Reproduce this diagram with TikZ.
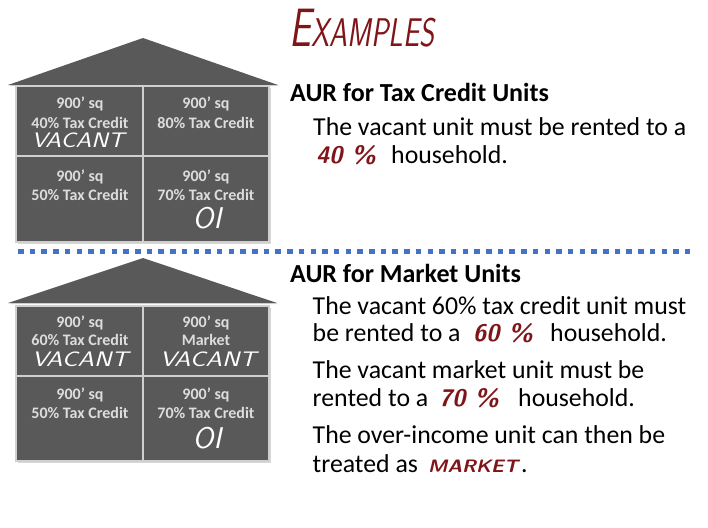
\documentclass[tikz,border=0pt]{standalone}
\usepackage{fontspec}
\setmainfont{Carlito}
\usetikzlibrary{shadows}
\definecolor{hgray}{HTML}{595959}
\definecolor{hborder}{HTML}{D0D0D0}
\definecolor{celltext}{HTML}{DDDDDD}
\definecolor{hred}{HTML}{7F1518}
\definecolor{dotblue}{HTML}{4472C4}
\tikzset{
  roof/.style={fill=hgray, draw=none, drop shadow={opacity=0.25, shadow xshift=1pt, shadow yshift=-1pt}},
  housebox/.style={fill=hgray, draw=hborder, line width=2pt, drop shadow={opacity=0.3, shadow xshift=1.5pt, shadow yshift=-1.5pt}},
  divider/.style={draw=hborder, line width=1.8pt},
  cell/.style={font=\fontsize{16}{16}\selectfont\bfseries, text=celltext, anchor=base, inner sep=0pt},
  scrawl/.style={font=\fontsize{21}{21}\selectfont\sffamily\itshape, text=white, anchor=base, inner sep=0pt, text height=14.5pt, text depth=0pt},
  bigscrawl/.style={font=\fontsize{30}{30}\selectfont\sffamily\itshape, text=white, anchor=base, inner sep=0pt},
  head/.style={font=\fontsize{26}{26}\selectfont\bfseries, anchor=base west, inner sep=0pt},
  body/.style={font=\fontsize{25.8}{25.8}\selectfont, anchor=base west, inner sep=0pt},
  redhand/.style={font=\fontsize{24}{24}\selectfont\sffamily\itshape\bfseries, text=hred, anchor=base west, inner sep=0pt},
  redcaps/.style={font=\fontsize{18}{18}\selectfont\sffamily\itshape\bfseries, text=hred, anchor=base west, inner sep=0pt},
  titletext/.style={font=\sffamily\itshape, text=hred, inner sep=0pt},
  sepline/.style={draw=dotblue, line width=5.5pt, dash pattern=on 5.5pt off 6.2pt}
}
\begin{document}
\begin{tikzpicture}[x=1pt,y=-1pt]
\useasboundingbox[fill=white] (0,0) rectangle (708,527);

% title
\node[titletext] (title) at (362,28) {\scalebox{0.72}[1]{\fontsize{54}{54}\selectfont E\fontsize{40}{40}\selectfont XAMPLES}};

% ---------- top house ----------
\fill[roof] (8,85) -- (143,38) -- (278,85) -- cycle;
\draw[housebox] (16,86) rectangle (269,242);
\draw[divider] (143,86) -- (143,242);
\draw[divider] (16,156) -- (269,156);

\node[cell] (t1a) at (80,108.5) {900’ sq};
\node[cell] (t1b) at (80,128) {40\% Tax Credit};
\node[scrawl] (t1c) at (78,147.5) {\scalebox{1.2}[1]{VACANT}};
\node[cell] (t2a) at (206,108.5) {900’ sq};
\node[cell] (t2b) at (206,128) {80\% Tax Credit};
\node[cell] (t3a) at (80,181) {900’ sq};
\node[cell] (t3b) at (80,200.5) {50\% Tax Credit};
\node[cell] (t4a) at (206,181) {900’ sq};
\node[cell] (t4b) at (206,200) {70\% Tax Credit};
\node[bigscrawl] (t4c) at (207,228) {OI};

% separator
\coordinate (sepA) at (18,251.3);
\coordinate (sepB) at (695,251.3);
\draw[sepline] (sepA) -- (sepB);

% ---------- bottom house ----------
\fill[roof] (8,303) -- (143,258) -- (277,303) -- cycle;
\draw[housebox] (16,306) rectangle (269,461);
\draw[divider] (143,306) -- (143,461);
\draw[divider] (16,376) -- (269,376);

\node[cell] (b1a) at (80,327) {900’ sq};
\node[cell] (b1b) at (80,345.5) {60\% Tax Credit};
\node[scrawl] (b1c) at (80,366.5) {\scalebox{1.25}[1]{VACANT}};
\node[cell] (b2a) at (206,327) {900’ sq};
\node[cell] (b2b) at (206,345.5) {Market};
\node[scrawl] (b2c) at (208,366.5) {\scalebox{1.25}[1]{VACANT}};
\node[cell] (b3a) at (80,399.5) {900’ sq};
\node[cell] (b3b) at (80,418.5) {50\% Tax Credit};
\node[cell] (b4a) at (206,399.5) {900’ sq};
\node[cell] (b4b) at (206,418.5) {70\% Tax Credit};
\node[bigscrawl] (b4c) at (207,448) {OI};

% ---------- top text ----------
\node[head] (h1) at (290,101) {AUR for Tax Credit Units};
\node[body] (l1) at (313,135) {The vacant unit must be rented to a};
\node[redhand] (r40) at (316,163.3) {40 \%};
\node[body] (l2) at (391,163.3) {household.};

% ---------- bottom text ----------
\node[head] (h2) at (290,282.7) {AUR for Market Units};
\node[body] (m1) at (312.5,314) {The vacant 60\% tax credit unit must};
\node[body] (m2) at (312.5,341.7) {be rented to a};
\node[redhand] (r60) at (473,341.7) {60 \%};
\node[body] (m3) at (550,341.7) {household.};
\node[body] (m4) at (312.5,378.3) {The vacant market unit must be};
\node[body] (m5) at (312.5,406.7) {rented to a};
\node[redhand] (r70) at (439,406.7) {70 \%};
\node[body] (m6) at (518,406.7) {household.};
\node[body] (m7) at (312.5,443.3) {The over-income unit can then be};
\node[body] (m8) at (312.5,472.3) {treated as};
\node[redcaps] (rmk) at (428,472.3) {\scalebox{1.1}[1]{MARKET}};
\node[body] (m9) at (521,472.3) {.};
\end{tikzpicture}
\end{document}
